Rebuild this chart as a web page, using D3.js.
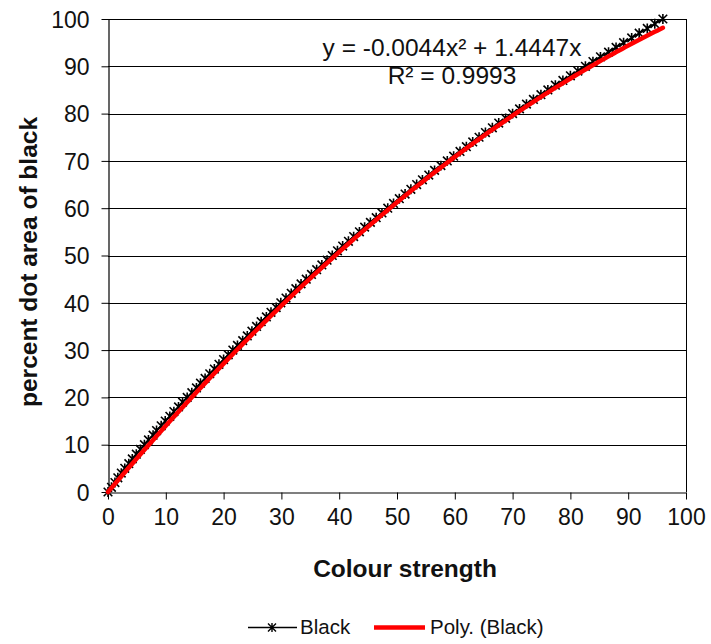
<!DOCTYPE html>
<html><head><meta charset="utf-8">
<script src="https://cdn.jsdelivr.net/npm/d3@7"></script>
<style>body{margin:0;background:#fff}svg{display:block}text{font-family:"Liberation Sans",Arial,sans-serif}</style>
</head><body>
<script>
// percent dot area of black (y) and measured colour strength (x)
const dotArea = d3.range(0, 101);
const colourStrength = [
 0,0.6,1.2,1.7,2.3,2.9,3.6,4.2,4.9,5.6,
 6.3,7.0,7.8,8.4,9.2,9.9,10.7,11.4,12.2,12.9,
 13.7,14.5,15.3,16.0,16.8,17.6,18.4,19.2,20.0,20.8,
 21.6,22.4,23.3,24.1,24.9,25.7,26.5,27.4,28.2,29.1,
 29.9,30.8,31.7,32.5,33.4,34.3,35.2,36.1,37.0,37.9,
 38.8,39.7,40.6,41.6,42.5,43.5,44.4,45.4,46.4,47.4,
 48.4,49.4,50.4,51.4,52.4,53.4,54.4,55.5,56.5,57.6,
 58.7,59.8,60.9,62.0,63.1,64.2,65.3,66.5,67.6,68.8,
 70.0,71.2,72.4,73.6,74.9,76.1,77.4,78.7,80.0,81.3,
 82.6,83.9,85.2,86.6,87.9,89.2,90.6,91.9,93.3,94.6,
 96.0];
// polynomial trendline coefficients (a x^2 + b x)
const trendCoef = [-0.0044, 1.4447];
const trendRange = [0, 96];
const xTicks = [0,10,20,30,40,50,60,70,80,90,100];
const yTicks = [0,10,20,30,40,50,60,70,80,90,100];
const equationLines = ["y = -0.0044x² + 1.4447x", "R² = 0.9993"];
const legendLabels = ["Black", "Poly. (Black)"];

const W = 711, H = 644;
const m = {left:108, right:686, top:19, bottom:492};
const svg = d3.select("body").append("svg").attr("width", W).attr("height", H);
const x = d3.scaleLinear().domain([0,100]).range([m.left, m.right]);
const y = d3.scaleLinear().domain([0,100]).range([m.bottom, m.top]);

// gridlines
svg.append("g").selectAll("line").data(yTicks.filter(d=>d>0)).join("line")
  .attr("x1", m.left).attr("x2", m.right)
  .attr("y1", d=>Math.round(y(d))+0.5).attr("y2", d=>Math.round(y(d))+0.5)
  .attr("stroke", "#000").attr("stroke-width", 1);
// right border
svg.append("line").attr("x1", m.right+0.5).attr("x2", m.right+0.5)
  .attr("y1", m.top).attr("y2", m.bottom).attr("stroke", "#000");

// axes
const xAxis = svg.append("g").attr("transform", `translate(0,${Math.round(y(0))+0.5})`)
  .call(d3.axisBottom(x).tickValues(xTicks).tickSize(7).tickPadding(9).tickSizeOuter(0));
const yAxis = svg.append("g").attr("transform", `translate(${m.left+0.5},0)`)
  .call(d3.axisLeft(y).tickValues(yTicks).tickSize(7).tickPadding(12).tickSizeOuter(0));
[xAxis, yAxis].forEach(g => {
  g.select(".domain").attr("stroke", "#000").attr("stroke-width", 1.2);
  g.selectAll(".tick line").attr("stroke", "#000");
  g.selectAll(".tick text").attr("font-size", 23).attr("fill", "#111")
   .style("font-family", '"Liberation Sans",Arial,sans-serif');
});
yAxis.selectAll(".tick text").attr("dy", "0.36em");

// black series
const pts = dotArea.map((v,i)=>[colourStrength[i], v]);
const line = d3.line().x(d=>x(d[0])).y(d=>y(d[1]));
svg.append("path").datum(pts).attr("d", line).attr("fill","none")
  .attr("stroke","#000").attr("stroke-width",1.8);
function star(g, cx, cy, r, sw) {
  const p = `M${cx-r},${cy-r}L${cx+r},${cy+r}M${cx-r},${cy+r}L${cx+r},${cy-r}M${cx},${cy-r*1.15}L${cx},${cy+r*1.15}`;
  g.append("path").attr("d", p).attr("stroke","#000").attr("stroke-width",sw).attr("fill","none");
}
const mk = svg.append("g");
pts.forEach(d => star(mk, x(d[0]), y(d[1]), 4.3, 1.6));

// trendline
const tx = d3.range(trendRange[0], trendRange[1]+0.001, 0.5);
const trend = tx.map(v => [v, trendCoef[0]*v*v + trendCoef[1]*v]);
svg.append("path").datum(trend).attr("d", line).attr("fill","none")
  .attr("stroke","#ff0000").attr("stroke-width",4.5).attr("stroke-linecap","round");

// equation
svg.append("g").selectAll("text").data(equationLines).join("text")
  .attr("x", 452).attr("y", (d,i)=>56 + i*28).attr("text-anchor","middle")
  .attr("font-size", 24.5).attr("fill","#111").text(d=>d);

// axis titles
svg.append("text").attr("x", 405).attr("y", 577).attr("text-anchor","middle")
  .attr("font-size", 24.5).attr("font-weight","bold").attr("fill","#111").text("Colour strength");
svg.append("text").attr("transform","translate(37,262) rotate(-90)").attr("text-anchor","middle")
  .attr("font-size", 24.5).attr("font-weight","bold").attr("fill","#111").text("percent dot area of black");

// legend
const lg = svg.append("g");
lg.append("line").attr("x1",248).attr("x2",297).attr("y1",627.5).attr("y2",627.5).attr("stroke","#000").attr("stroke-width",1.5);
star(lg, 272, 627.5, 4, 1.4);
lg.append("text").attr("x",300).attr("y",634).attr("font-size",20.5).attr("fill","#111").text(legendLabels[0]);
lg.append("line").attr("x1",374).attr("x2",425).attr("y1",627.5).attr("y2",627.5).attr("stroke","#ff0000").attr("stroke-width",4.5);
lg.append("text").attr("x",430).attr("y",634).attr("font-size",20.5).attr("fill","#111").text(legendLabels[1]);
</script>
</body></html>
